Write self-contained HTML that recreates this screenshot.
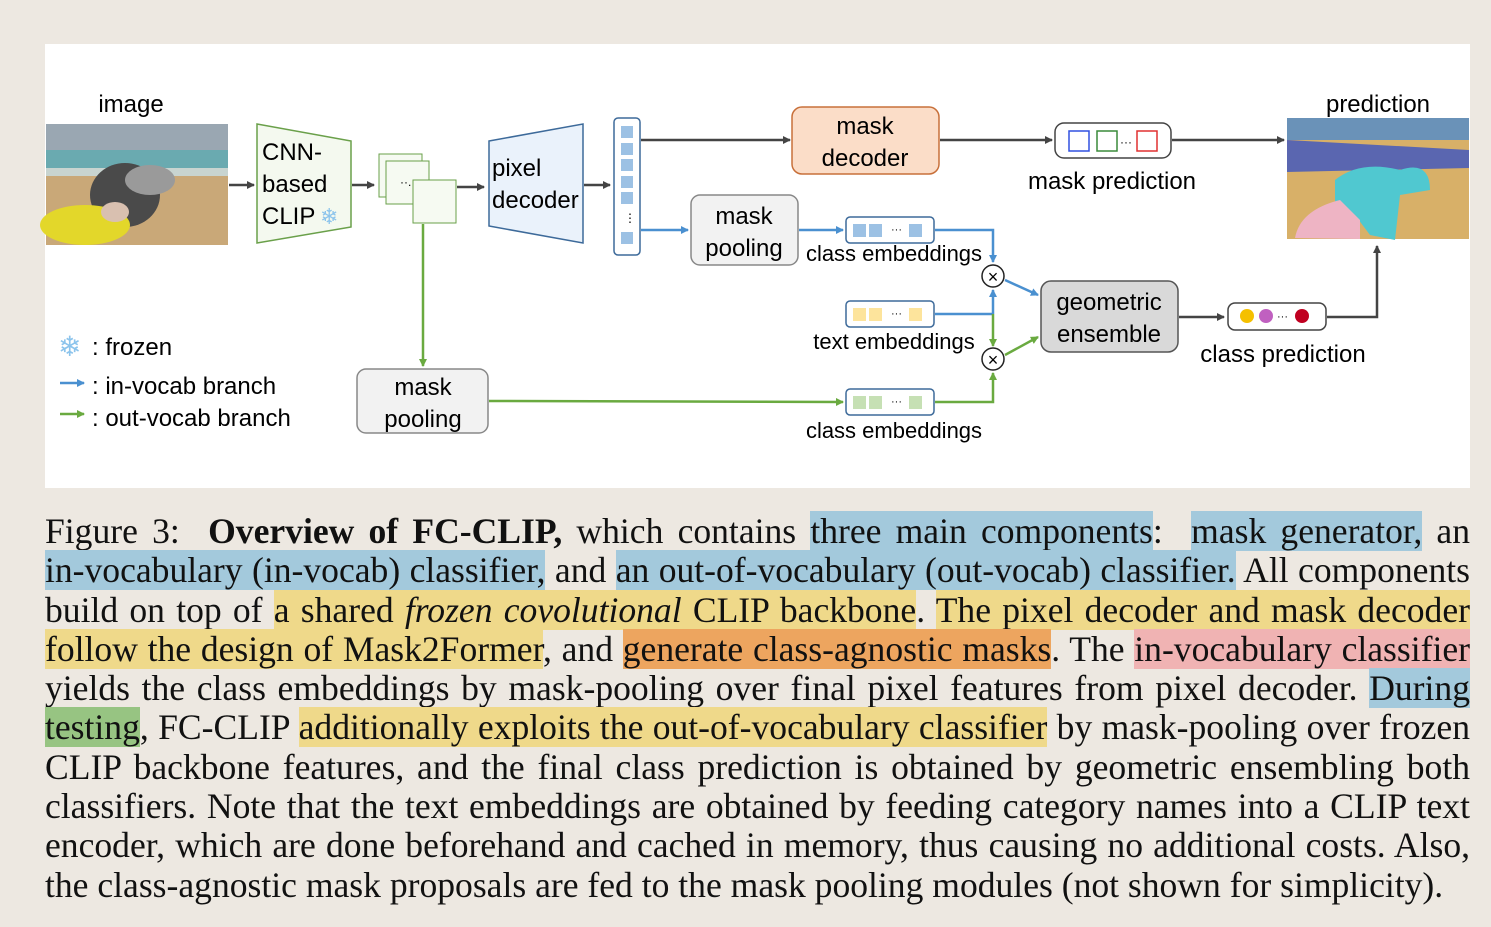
<!DOCTYPE html>
<html><head><meta charset="utf-8"><style>
body{margin:0;width:1491px;height:927px;background:#ede8e1;overflow:hidden;position:relative}
#panel{position:absolute;left:45px;top:44px;width:1425px;height:444px;background:#fff}
svg{position:absolute;left:0;top:0}
.cap{position:absolute;left:45px;width:1425px;font-family:"Liberation Serif",serif;font-size:35.6px;color:#111;line-height:39px}
.l{height:39.3px;text-align:justify;text-align-last:justify;white-space:nowrap;letter-spacing:0}
.b{background:#a3c9dc}.y{background:#efd98a}.o{background:#eda55f}.p{background:#f0b3b3}.g{background:#97c482}
</style></head><body>
<div id="panel"></div>
<svg width="1491" height="927" font-family="Liberation Sans, sans-serif" font-size="24">
<defs>
<marker id="ak" markerWidth="8" markerHeight="8" refX="7" refY="4" orient="auto" markerUnits="userSpaceOnUse"><path d="M0,0L8,4L0,8z" fill="#444"/></marker>
<marker id="ab" markerWidth="8" markerHeight="8" refX="7" refY="4" orient="auto" markerUnits="userSpaceOnUse"><path d="M0,0L8,4L0,8z" fill="#4a90d0"/></marker>
<marker id="ag" markerWidth="8" markerHeight="8" refX="7" refY="4" orient="auto" markerUnits="userSpaceOnUse"><path d="M0,0L8,4L0,8z" fill="#6aaa40"/></marker>
</defs>
<text x="131" y="112" text-anchor="middle">image</text>
<rect x="46" y="124" width="182" height="121" fill="#c9a878"/>
<rect x="46" y="124" width="182" height="32" fill="#9aa7b2"/>
<rect x="46" y="150" width="182" height="22" fill="#6aaab0"/>
<rect x="46" y="168" width="182" height="8" fill="#c8d4d0"/>
<ellipse cx="125" cy="195" rx="35" ry="32" fill="#4a4a4a"/>
<ellipse cx="150" cy="180" rx="25" ry="15" fill="#9a9a9a"/>
<ellipse cx="85" cy="225" rx="45" ry="20" fill="#e3d72a"/>
<ellipse cx="115" cy="212" rx="14" ry="10" fill="#d9c0b0"/>
<line x1="229" y1="185" x2="254" y2="185" stroke="#444" stroke-width="2.5" marker-end="url(#ak)"/>
<polygon points="257,124 351,141 351,227 257,243" fill="#f4f9ef" stroke="#6aa04a" stroke-width="1.5"/>
<text x="262" y="160">CNN-</text><text x="262" y="192">based</text><text x="262" y="224">CLIP</text>
<text x="320" y="224" font-size="22" fill="#8cc4ec">❄</text>
<line x1="352" y1="185" x2="374" y2="185" stroke="#444" stroke-width="2.5" marker-end="url(#ak)"/>
<rect x="379" y="154" width="43" height="43" fill="#f6faf2" stroke="#6aa04a"/>
<rect x="386" y="161" width="43" height="43" fill="#f6faf2" stroke="#6aa04a"/>
<rect x="413" y="180" width="43" height="43" fill="#f6faf2" stroke="#6aa04a"/>
<text x="400" y="186" font-size="12">··.</text>
<line x1="457" y1="187" x2="484" y2="187" stroke="#444" stroke-width="2.5" marker-end="url(#ak)"/>
<polygon points="489,141 583,124 583,243 489,226" fill="#eaf2fb" stroke="#3d6a9a" stroke-width="1.5"/>
<text x="492" y="176">pixel</text><text x="492" y="208">decoder</text>
<line x1="584" y1="185" x2="610" y2="185" stroke="#444" stroke-width="2.5" marker-end="url(#ak)"/>
<rect x="614" y="118" width="26" height="137" rx="4" fill="#fff" stroke="#3d6a9a" stroke-width="1.5"/>
<g fill="#9cc1e4"><rect x="621" y="126" width="12" height="12"/><rect x="621" y="143" width="12" height="12"/><rect x="621" y="159" width="12" height="12"/><rect x="621" y="176" width="12" height="12"/><rect x="621" y="192" width="12" height="12"/><rect x="621" y="232" width="12" height="12"/></g>
<text x="624" y="222" font-size="12">⋮</text>
<line x1="641" y1="140" x2="790" y2="140" stroke="#444" stroke-width="2.5" marker-end="url(#ak)"/>
<line x1="641" y1="230" x2="688" y2="230" stroke="#4a90d0" stroke-width="2.5" marker-end="url(#ab)"/>
<rect x="792" y="107" width="147" height="67" rx="10" fill="#fbddc8" stroke="#c8703a" stroke-width="1.5"/>
<text x="865" y="134" text-anchor="middle">mask</text><text x="865" y="166" text-anchor="middle">decoder</text>
<line x1="940" y1="140" x2="1052" y2="140" stroke="#444" stroke-width="2.5" marker-end="url(#ak)"/>
<rect x="1055" y="123" width="116" height="35" rx="9" fill="#fff" stroke="#444" stroke-width="1.5"/>
<rect x="1069" y="131" width="20" height="20" fill="none" stroke="#3050e0" stroke-width="1.5"/>
<rect x="1097" y="131" width="20" height="20" fill="none" stroke="#3a8a3a" stroke-width="1.5"/>
<rect x="1137" y="131" width="20" height="20" fill="none" stroke="#e03030" stroke-width="1.5"/>
<text x="1120" y="146" font-size="12">···</text>
<text x="1112" y="189" text-anchor="middle">mask prediction</text>
<line x1="1172" y1="140" x2="1284" y2="140" stroke="#444" stroke-width="2.5" marker-end="url(#ak)"/>
<text x="1378" y="112" text-anchor="middle">prediction</text>
<rect x="1287" y="118" width="182" height="121" fill="#d8b068"/>
<rect x="1287" y="118" width="182" height="22" fill="#6a92b8"/>
<polygon points="1287,140 1469,150 1469,168 1287,172" fill="#5a66b0"/>
<path d="M1335,180 Q1360,160 1400,170 Q1430,160 1430,190 L1400,195 L1395,240 L1370,235 L1355,215 L1335,210z" fill="#50c8d0"/>
<path d="M1295,238 Q1300,210 1340,200 L1360,220 L1360,239z" fill="#eeb4c4"/>
<rect x="691" y="195" width="107" height="70" rx="9" fill="#f2f2f2" stroke="#888" stroke-width="1.5"/>
<text x="744" y="224" text-anchor="middle">mask</text><text x="744" y="256" text-anchor="middle">pooling</text>
<line x1="799" y1="230" x2="843" y2="230" stroke="#4a90d0" stroke-width="2.5" marker-end="url(#ab)"/>
<rect x="846" y="217" width="88" height="26" rx="4" fill="#fff" stroke="#3d6a9a" stroke-width="1.5"/>
<g fill="#9cc1e4"><rect x="853" y="224" width="13" height="13"/><rect x="869" y="224" width="13" height="13"/><rect x="909" y="224" width="13" height="13"/></g><text x="891" y="233" font-size="11">···</text>
<text x="894" y="261" text-anchor="middle" font-size="22">class embeddings</text>
<polyline points="935,230 993,230 993,262" fill="none" stroke="#4a90d0" stroke-width="2.5" marker-end="url(#ab)"/>
<rect x="846" y="301" width="88" height="26" rx="4" fill="#fff" stroke="#3d6a9a" stroke-width="1.5"/>
<g fill="#fde49c"><rect x="853" y="308" width="13" height="13"/><rect x="869" y="308" width="13" height="13"/><rect x="909" y="308" width="13" height="13"/></g><text x="891" y="317" font-size="11">···</text>
<text x="894" y="349" text-anchor="middle" font-size="22">text embeddings</text>
<line x1="935" y1="314" x2="993" y2="314" stroke="#4a90d0" stroke-width="2.5"/>
<line x1="993" y1="314" x2="993" y2="290" stroke="#4a90d0" stroke-width="2.5" marker-end="url(#ab)"/>
<line x1="993" y1="314" x2="993" y2="346" stroke="#6aaa40" stroke-width="2.5" marker-end="url(#ag)"/>
<circle cx="993" cy="276" r="11" fill="#fff" stroke="#222" stroke-width="1.5"/><text x="993" y="283" text-anchor="middle" font-size="18">×</text>
<circle cx="993" cy="359" r="11" fill="#fff" stroke="#222" stroke-width="1.5"/><text x="993" y="366" text-anchor="middle" font-size="18">×</text>
<line x1="1005" y1="280" x2="1038" y2="295" stroke="#4a90d0" stroke-width="2.5" marker-end="url(#ab)"/>
<line x1="1005" y1="355" x2="1038" y2="337" stroke="#6aaa40" stroke-width="2.5" marker-end="url(#ag)"/>
<rect x="1041" y="281" width="137" height="71" rx="10" fill="#d9d9d9" stroke="#555" stroke-width="1.5"/>
<text x="1109" y="310" text-anchor="middle">geometric</text><text x="1109" y="342" text-anchor="middle">ensemble</text>
<line x1="1179" y1="317" x2="1224" y2="317" stroke="#444" stroke-width="2.5" marker-end="url(#ak)"/>
<rect x="1228" y="303" width="98" height="27" rx="7" fill="#fff" stroke="#444" stroke-width="1.5"/>
<circle cx="1247" cy="316" r="7" fill="#f5c000"/><circle cx="1266" cy="316" r="7" fill="#c060c0"/><circle cx="1302" cy="316" r="7" fill="#c00020"/><text x="1277" y="320" font-size="11">···</text>
<text x="1283" y="362" text-anchor="middle">class prediction</text>
<polyline points="1327,317 1377,317 1377,246" fill="none" stroke="#444" stroke-width="2.5" marker-end="url(#ak)"/>
<line x1="423" y1="224" x2="423" y2="366" stroke="#6aaa40" stroke-width="2.5" marker-end="url(#ag)"/>
<rect x="357" y="369" width="131" height="64" rx="9" fill="#f2f2f2" stroke="#888" stroke-width="1.5"/>
<text x="423" y="395" text-anchor="middle">mask</text><text x="423" y="427" text-anchor="middle">pooling</text>
<line x1="489" y1="401" x2="843" y2="402" stroke="#6aaa40" stroke-width="2.5" marker-end="url(#ag)"/>
<rect x="846" y="389" width="88" height="26" rx="4" fill="#fff" stroke="#3d6a9a" stroke-width="1.5"/>
<g fill="#c6e0b4"><rect x="853" y="396" width="13" height="13"/><rect x="869" y="396" width="13" height="13"/><rect x="909" y="396" width="13" height="13"/></g><text x="891" y="405" font-size="11">···</text>
<text x="894" y="438" text-anchor="middle" font-size="22">class embeddings</text>
<polyline points="935,402 993,402 993,373" fill="none" stroke="#6aaa40" stroke-width="2.5" marker-end="url(#ag)"/>
<text x="58" y="356" font-size="28" fill="#8cc4ec">❄</text>
<text x="92" y="355">: frozen</text>
<line x1="60" y1="383" x2="84" y2="383" stroke="#4a90d0" stroke-width="2.5" marker-end="url(#ab)"/>
<text x="92" y="394">: in-vocab branch</text>
<line x1="60" y1="414" x2="84" y2="414" stroke="#6aaa40" stroke-width="2.5" marker-end="url(#ag)"/>
<text x="92" y="426">: out-vocab branch</text>
</svg>
<div class="cap" style="top:512px">
<div class="l">Figure 3: &nbsp;<b>Overview of FC-CLIP,</b> which contains <span class="b">three main components</span>: &nbsp;<span class="b">mask generator,</span> an</div>
<div class="l"><span class="b">in-vocabulary (in-vocab) classifier,</span> and <span class="b">an out-of-vocabulary (out-vocab) classifier.</span> All components</div>
<div class="l">build on top of <span class="y">a shared <i>frozen covolutional</i> CLIP backbone</span>. <span class="y">The pixel decoder and mask decoder</span></div>
<div class="l"><span class="y">follow the design of Mask2Former</span>, and <span class="o">generate class-agnostic masks</span>. The <span class="p">in-vocabulary classifier</span></div>
<div class="l">yields the class embeddings by mask-pooling over final pixel features from pixel decoder. <span class="b">During</span></div>
<div class="l"><span class="g">testing</span>, FC-CLIP <span class="y">additionally exploits the out-of-vocabulary classifier</span> by mask-pooling over frozen</div>
<div class="l">CLIP backbone features, and the final class prediction is obtained by geometric ensembling both</div>
<div class="l">classifiers. Note that the text embeddings are obtained by feeding category names into a CLIP text</div>
<div class="l">encoder, which are done beforehand and cached in memory, thus causing no additional costs. Also,</div>
<div class="l" style="text-align-last:left">the class-agnostic mask proposals are fed to the mask pooling modules (not shown for simplicity).</div>
</div>
</body></html>
